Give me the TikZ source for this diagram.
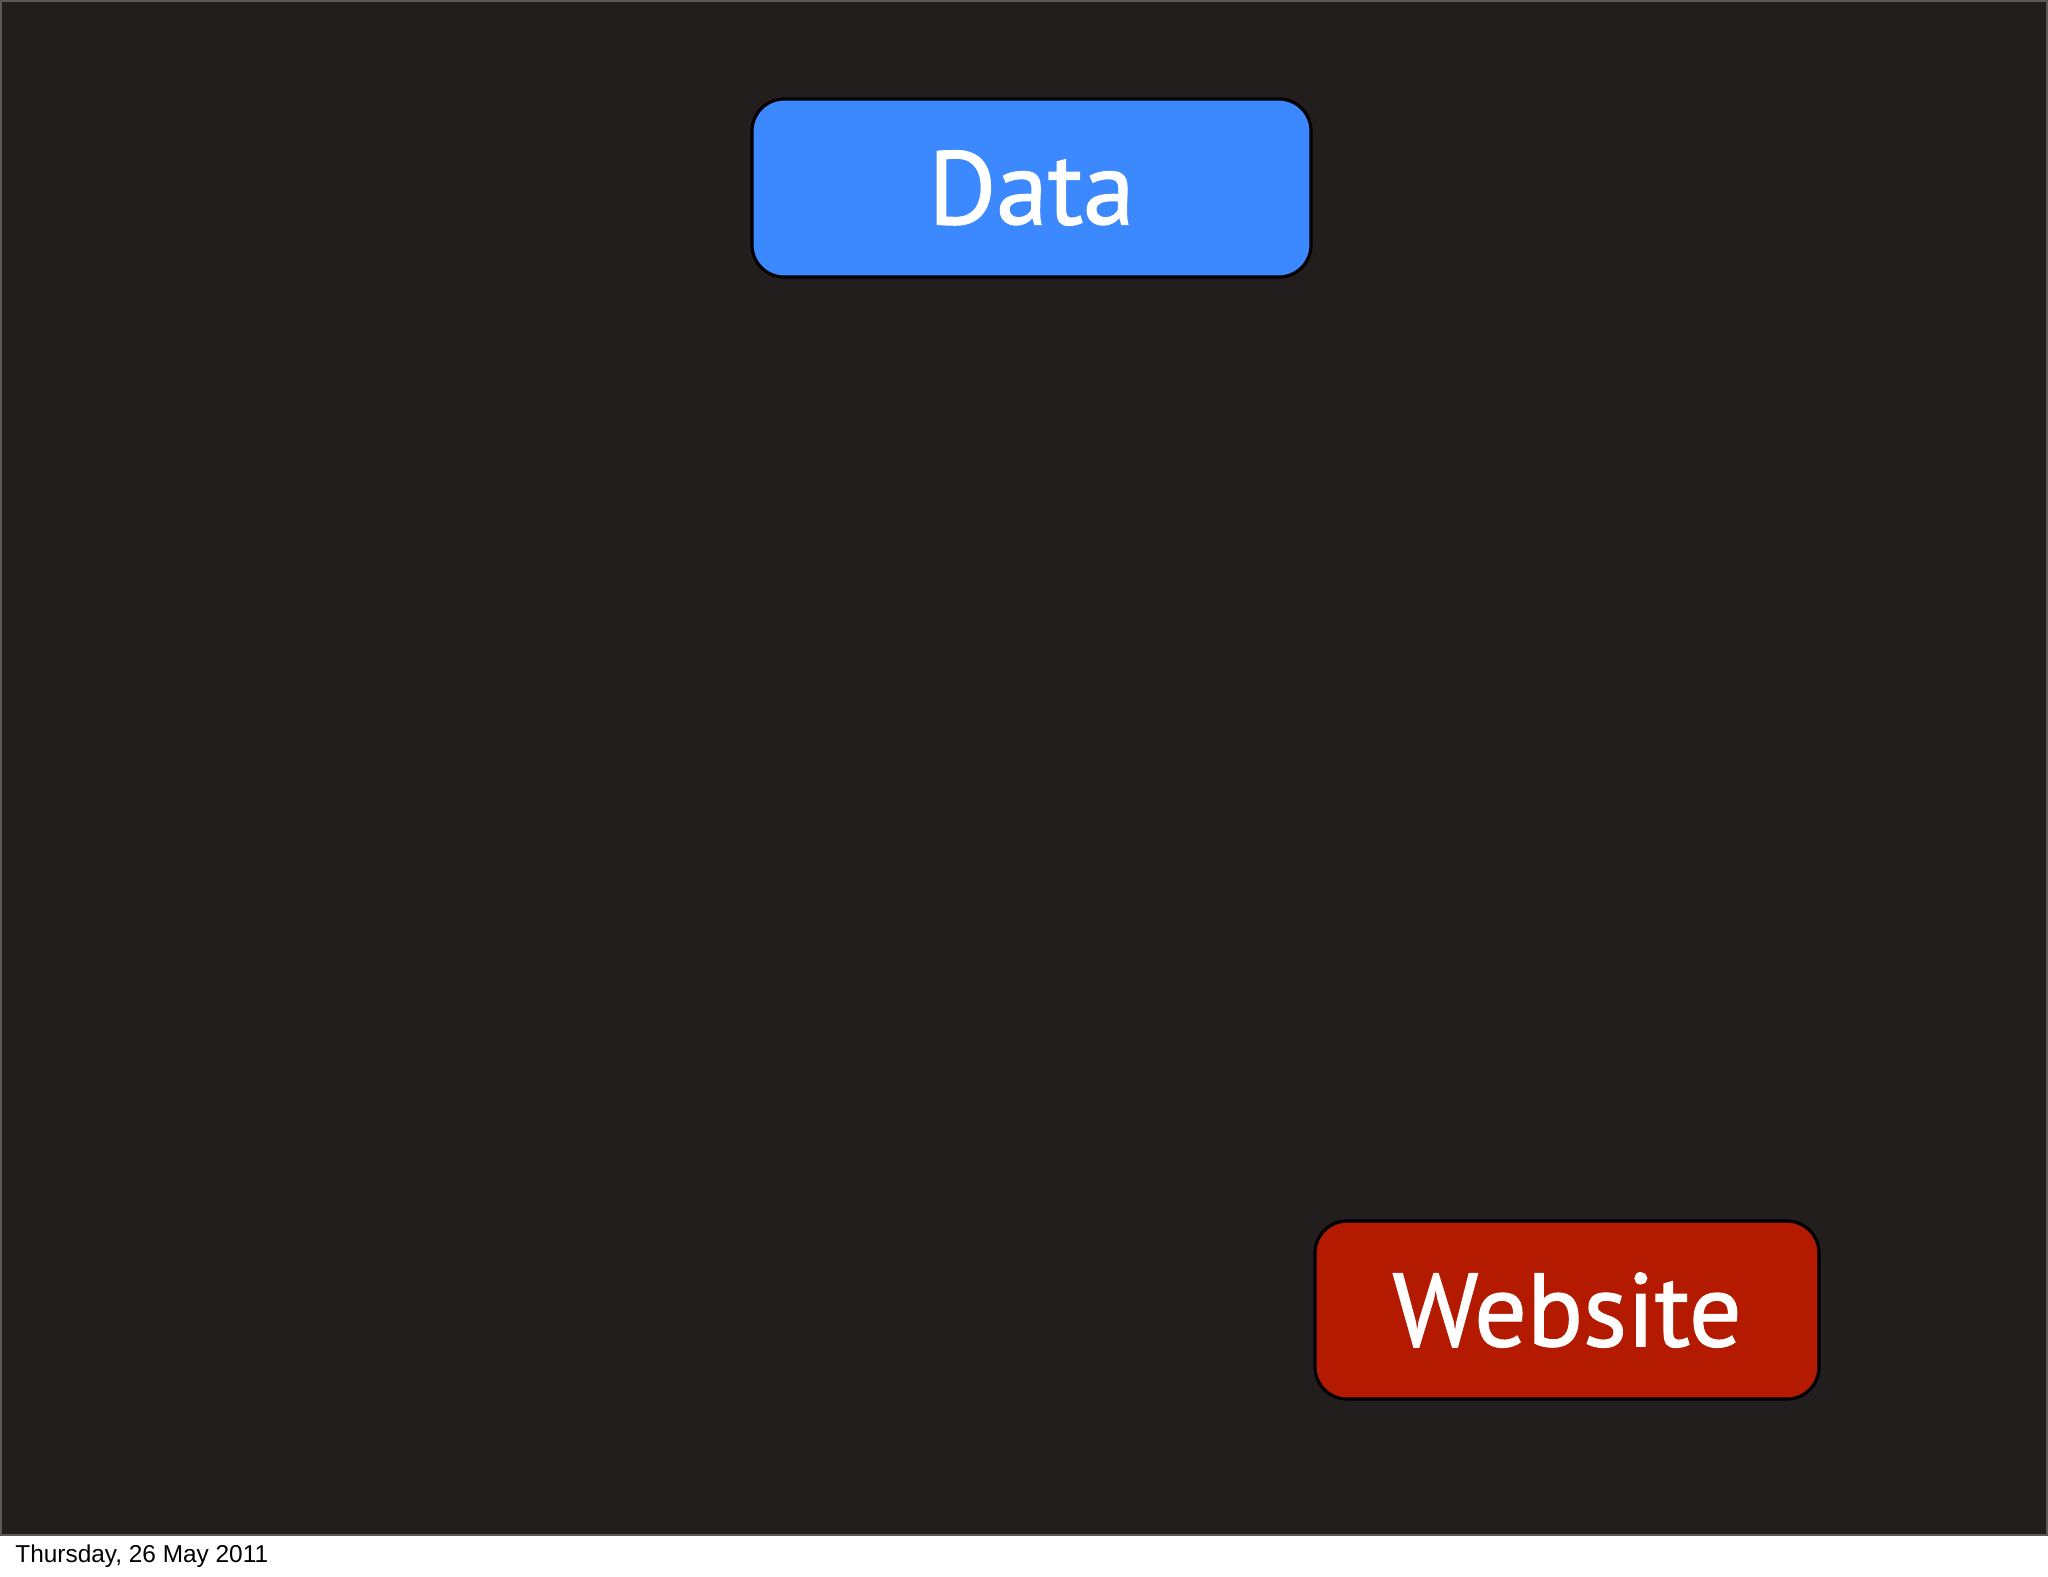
\documentclass[tikz,border=0pt]{standalone}
\usepackage{fontspec}
\setmainfont{PT Sans}
\newfontfamily\boxfont[FakeBold=1.2]{PT Sans}
\newfontfamily\datefont{Liberation Sans}
\definecolor{slidebg}{HTML}{221E1E}
\definecolor{slideedge}{HTML}{5A5A5A}
\definecolor{databg}{HTML}{3C88FF}
\definecolor{webbg}{HTML}{B31A00}
\begin{document}
\begin{tikzpicture}[x=1pt,y=1pt,
  box/.style={draw=black, line width=1.6pt, rounded corners=16pt, minimum height=89pt,
    text=white, font=\boxfont\fontsize{52}{60}\selectfont, inner sep=0pt}]
\useasboundingbox (0,0) rectangle (1024,-788);
\fill[white] (0,0) rectangle (1024,-788);
\filldraw[fill=slidebg, draw=slideedge, line width=0.8pt] (0.4,-0.4) rectangle (1023.6,-767.5);
\node[box, fill=databg, minimum width=279.5pt] (data) at (515.75,-94) {Data};
\node[box, fill=webbg, minimum width=252pt] (web) at (783.5,-655) {Website};
\node[anchor=base west, inner sep=0pt, font=\datefont\fontsize{12.2}{14}\selectfont] (date) at (7.5,-781) {Thursday, 26 May 2011};
\end{tikzpicture}
\end{document}
